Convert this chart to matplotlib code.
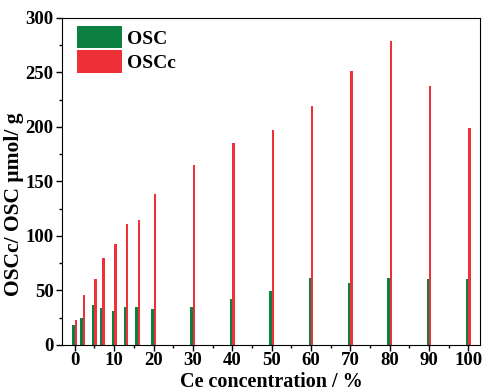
import matplotlib.pyplot as plt
from matplotlib.ticker import MultipleLocator

# Ce concentration (%) and storage capacities (umol/g)
ce = [0, 2, 5, 7, 10, 13, 16, 20, 30, 40, 50, 60, 70, 80, 90, 100]
osc = [18, 25, 37, 34, 31, 35, 35, 33, 35, 42, 49, 61, 57, 61, 60, 60]
oscc = [23, 46, 60, 80, 93, 111, 115, 138, 165, 185, 197, 219, 251, 279, 238, 199]

plt.rcParams['font.family'] = ['Liberation Serif', 'DejaVu Serif']
plt.rcParams['font.weight'] = 'bold'

fig = plt.figure(figsize=(4.83, 3.91), dpi=100)
ax = fig.add_axes([0.128, 0.118, 0.866, 0.836])

w = 0.6
ax.bar([c - w / 2 for c in ce], osc, width=w, color='#0b8040', label='OSC')
ax.bar([c + w / 2 for c in ce], oscc, width=w, color='#ee3138', label='OSCc')

ax.set_xlim(-3.3, 103)
ax.set_ylim(0, 300)
ax.xaxis.set_major_locator(MultipleLocator(10))
ax.xaxis.set_minor_locator(MultipleLocator(5))
ax.yaxis.set_major_locator(MultipleLocator(50))
ax.yaxis.set_minor_locator(MultipleLocator(25))
ax.tick_params(which='major', direction='out', length=4, width=1, labelsize=13.5, pad=2)
ax.tick_params(which='minor', direction='out', length=2.5, width=1)
ax.tick_params(axis='x', pad=1)
for lab in ax.get_xticklabels() + ax.get_yticklabels():
    lab.set_fontweight('bold')

ax.set_xlabel('Ce concentration / %', fontsize=14.5, fontweight='bold')
ax.xaxis.set_label_coords(0.5, -0.083)
ax.set_ylabel('OSCc/ OSC μmol/ g', fontsize=15.5, fontweight='bold')
ax.yaxis.set_label_coords(-0.09, 0.43)

ax.legend(loc='upper left', bbox_to_anchor=(0.036, 0.976), frameon=False,
          handlelength=2.3, handleheight=1.4, handletextpad=0.26,
          labelspacing=0.1, borderaxespad=0, borderpad=0,
          prop={'weight': 'bold', 'size': 14})

fig.savefig('out.png', dpi=100)
